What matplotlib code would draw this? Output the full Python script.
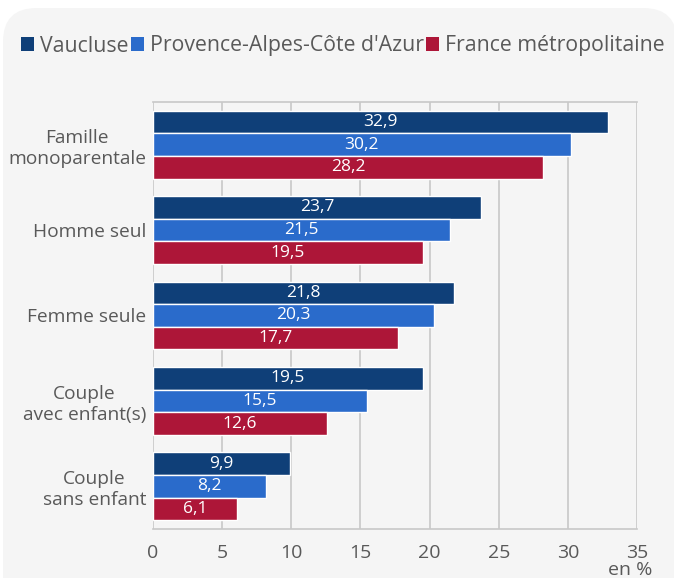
import matplotlib
matplotlib.use("Agg")
import matplotlib.pyplot as plt
from matplotlib.patches import FancyBboxPatch, Patch
import numpy as np

plt.rcParams['font.family'] = ['Open Sans', 'DejaVu Sans']

categories = ["Famille\nmonoparentale", "Homme seul", "Femme seule",
              "Couple\navec enfant(s)", "Couple\nsans enfant"]
series_names = ["Vaucluse", "Provence-Alpes-Côte d'Azur", "France métropolitaine"]
vaucluse = [32.9, 23.7, 21.8, 19.5, 9.9]
paca = [30.2, 21.5, 20.3, 15.5, 8.2]
france = [28.2, 19.5, 17.7, 12.6, 6.1]
x_ticks = [0, 5, 10, 15, 20, 25, 30, 35]

colors = ["#0f3f78", "#2a6bcb", "#ad1638"]
text_col = "#595959"

fig = plt.figure(figsize=(6.74, 5.78), dpi=100)
fig.patch.set_facecolor("white")
bg = FancyBboxPatch((3 / 674, -0.1), 1.0, (578 - 8) / 578 + 0.1,
                    boxstyle="round,pad=0,rounding_size=0.05",
                    transform=fig.transFigure, facecolor="#f5f5f5",
                    edgecolor="none", zorder=-5, mutation_aspect=674 / 578)
fig.patches.append(bg)

ax = fig.add_axes([153 / 674, 49 / 578, (637 - 153) / 674, 427 / 578])
ax.set_zorder(1)
ax.patch.set_alpha(0)

y = np.arange(len(categories))
h = 0.265
offsets = [-h, 0, h]
for vals, off, c in zip([vaucluse, paca, france], offsets, colors):
    bars = ax.barh(y + off, vals, height=h, color=c, edgecolor="white",
                   linewidth=1, zorder=3)
    ax.bar_label(bars, labels=[f"{v:.1f}".replace(".", ",") for v in vals],
                 label_type="center", color="white", fontsize=12.5, zorder=4)

ax.set_ylim(len(categories) - 0.5, -0.5)
ax.set_xlim(0, 35)
ax.set_xticks(x_ticks)
ax.set_xticklabels([str(t) for t in x_ticks], fontsize=14, color=text_col)
ax.set_yticks(y)
ax.set_yticklabels(categories, fontsize=13.8, color=text_col,
                   multialignment="center")
ax.tick_params(axis="both", length=0)
ax.tick_params(axis="x", pad=11)
ax.tick_params(axis="y", pad=5)
ax.grid(axis="x", color="#c8c8c8", linewidth=1.2, zorder=0)
for s in ["right", "left"]:
    ax.spines[s].set_visible(False)
for s in ["bottom", "top"]:
    ax.spines[s].set_color("#c8c8c8")
    ax.spines[s].set_linewidth(1.2)

fig.text(630 / 674, 1 - 570 / 578, "en %", ha="center", va="center",
         fontsize=14, color=text_col)

handles = [Patch(facecolor=c, edgecolor="none") for c in colors]
leg = fig.legend(handles, series_names, loc="center",
                 bbox_to_anchor=(343 / 674, 1 - 46 / 578), ncol=3,
                 frameon=False, fontsize=15.3, handlelength=0.6,
                 handleheight=0.6, handletextpad=0.3, columnspacing=0.1,
                 labelcolor=text_col)

fig.savefig("out.png", dpi=100, facecolor=fig.get_facecolor())
